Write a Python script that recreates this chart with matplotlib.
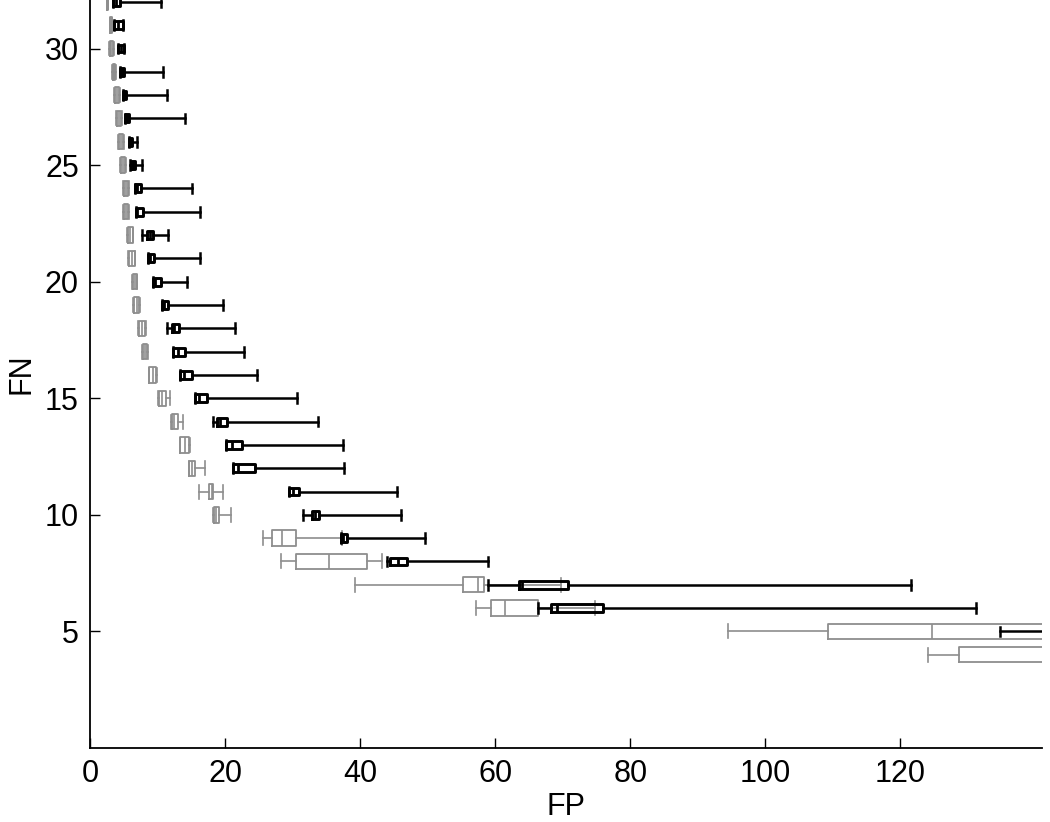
import matplotlib
matplotlib.use("Agg")
import matplotlib.pyplot as plt

plt.rcParams['font.family'] = ['Liberation Sans', 'DejaVu Sans']

# FN levels (rows) and FP box statistics
fn_gray = [32, 31, 30, 29, 28, 27, 26, 25, 24, 23, 22, 21, 20, 19, 18, 17, 16,
           15, 14, 13, 12, 11, 10, 9, 8, 7, 6, 5, 4]
gray_lo  = [2.5, 3.0, 2.8, 3.3, 3.5, 3.8, 4.2, 4.5, 4.9, 4.9, 5.5, 5.7, 6.2, 6.4, 7.1, 7.7, 8.7,
            10.1, 12.0, 13.3, 14.6, 16.1, 18.2, 25.6, 28.3, 39.3, 57.1, 94.5, 124.0]
gray_q1  = [2.55, 3.0, 2.9, 3.4, 3.7, 4.0, 4.3, 4.6, 5.0, 5.1, 5.6, 5.8, 6.3, 6.5, 7.2, 7.8, 8.8,
            10.2, 12.1, 13.4, 14.7, 17.6, 18.3, 26.9, 30.5, 55.3, 59.3, 109.2, 128.6]
gray_med = [2.6, 3.1, 3.1, 3.5, 4.0, 4.3, 4.6, 4.9, 5.3, 5.3, 5.9, 6.2, 6.6, 6.9, 7.7, 8.1, 9.3,
            10.7, 12.5, 14.0, 15.1, 18.0, 18.6, 28.4, 35.4, 57.4, 61.5, 124.7, 145.0]
gray_q3  = [2.65, 3.2, 3.4, 3.7, 4.3, 4.6, 4.9, 5.2, 5.7, 5.6, 6.3, 6.6, 6.9, 7.3, 8.2, 8.5, 9.8,
            11.3, 13.0, 14.6, 15.5, 18.2, 19.1, 30.5, 41.0, 58.4, 66.3, 150.0, 160.0]
gray_hi  = [2.7, 3.2, 3.5, 3.8, 4.4, 4.8, 5.1, 5.3, 5.8, 5.8, 6.4, 6.7, 7.0, 7.4, 8.3, 8.6, 9.9,
            11.8, 13.8, 14.8, 17.0, 19.7, 20.9, 37.3, 43.2, 69.7, 74.7, 170.0, 180.0]

fn_black = [32, 31, 30, 29, 28, 27, 26, 25, 24, 23, 22, 21, 20, 19, 18, 17, 16,
            15, 14, 13, 12, 11, 10, 9, 8, 7, 6, 5]
black_lo  = [3.4, 3.5, 4.2, 4.4, 4.9, 5.2, 5.8, 5.9, 6.7, 6.8, 7.7, 8.6, 9.3, 10.6, 11.4, 12.3, 13.3,
             15.5, 18.2, 20.1, 21.2, 29.4, 31.5, 37.1, 44.0, 59.0, 66.3, 134.8]
black_q1  = [3.4, 3.5, 4.2, 4.4, 4.9, 5.2, 5.8, 6.0, 6.7, 6.8, 8.4, 8.6, 9.3, 10.6, 12.1, 12.3, 13.3,
             15.5, 18.8, 20.1, 21.2, 29.4, 32.8, 37.1, 44.4, 63.5, 68.3, 150.0]
black_med = [3.9, 4.2, 4.6, 4.7, 5.1, 5.5, 6.0, 6.3, 7.0, 7.0, 8.9, 8.9, 9.6, 11.0, 12.5, 13.0, 13.9,
             16.2, 19.3, 21.0, 21.9, 30.0, 33.3, 37.5, 45.6, 64.0, 69.2, 160.0]
black_q3  = [4.4, 4.9, 5.1, 5.1, 5.3, 5.8, 6.2, 6.6, 7.6, 7.9, 9.3, 9.5, 10.5, 11.5, 13.2, 14.1, 15.1,
             17.3, 20.3, 22.5, 24.4, 30.9, 33.9, 38.0, 47.0, 70.7, 75.9, 170.0]
black_hi  = [10.5, 4.9, 5.1, 10.8, 11.4, 14.1, 7.0, 7.7, 15.1, 16.3, 11.5, 16.3, 14.3, 19.7, 21.5, 22.8, 24.7,
             30.6, 33.7, 37.4, 37.6, 45.4, 46.0, 49.6, 59.0, 121.6, 131.2, 190.0]

x_ticks = [0, 20, 40, 60, 80, 100, 120]
y_ticks = [5, 10, 15, 20, 25, 30]


def make_stats(lo, q1, med, q3, hi):
    return [dict(whislo=a, q1=b, med=c, q3=d, whishi=e, fliers=[])
            for a, b, c, d, e in zip(lo, q1, med, q3, hi)]


GRAY = '#8e8e8e'

fig = plt.figure(figsize=(10.5, 8.22), dpi=100)
ax = fig.add_axes([0.0857, 0.090, 0.907, 0.910])

gray_stats = make_stats(gray_lo, gray_q1, gray_med, gray_q3, gray_hi)
ax.bxp(gray_stats, positions=fn_gray, widths=0.66, capwidths=0.6,
       orientation='horizontal', showfliers=False, manage_ticks=False,
       boxprops=dict(color=GRAY, linewidth=1.3),
       whiskerprops=dict(color=GRAY, linewidth=1.2, linestyle='-'),
       capprops=dict(color=GRAY, linewidth=1.2),
       medianprops=dict(color=GRAY, linewidth=1.2))

black_stats = make_stats(black_lo, black_q1, black_med, black_q3, black_hi)
ax.bxp(black_stats, positions=fn_black, widths=0.34, capwidths=0.42,
       orientation='horizontal', showfliers=False, manage_ticks=False,
       boxprops=dict(color='black', linewidth=2.1),
       whiskerprops=dict(color='black', linewidth=1.8, linestyle='-'),
       capprops=dict(color='black', linewidth=1.8),
       medianprops=dict(color='black', linewidth=2.0))

ax.set_xlim(0, 141)
ax.set_ylim(0, 32.08)
ax.set_xticks(x_ticks)
ax.set_yticks(y_ticks)
ax.tick_params(direction='in', length=7, width=1.0, labelsize=22, pad=8)
for side in ['top', 'right']:
    ax.spines[side].set_visible(False)
for side in ['left', 'bottom']:
    ax.spines[side].set_linewidth(1.3)

ax.set_xlabel('FP', fontsize=22, labelpad=2)
ax.set_ylabel('FN', fontsize=22, labelpad=6)

fig.savefig('out.png', dpi=100)
